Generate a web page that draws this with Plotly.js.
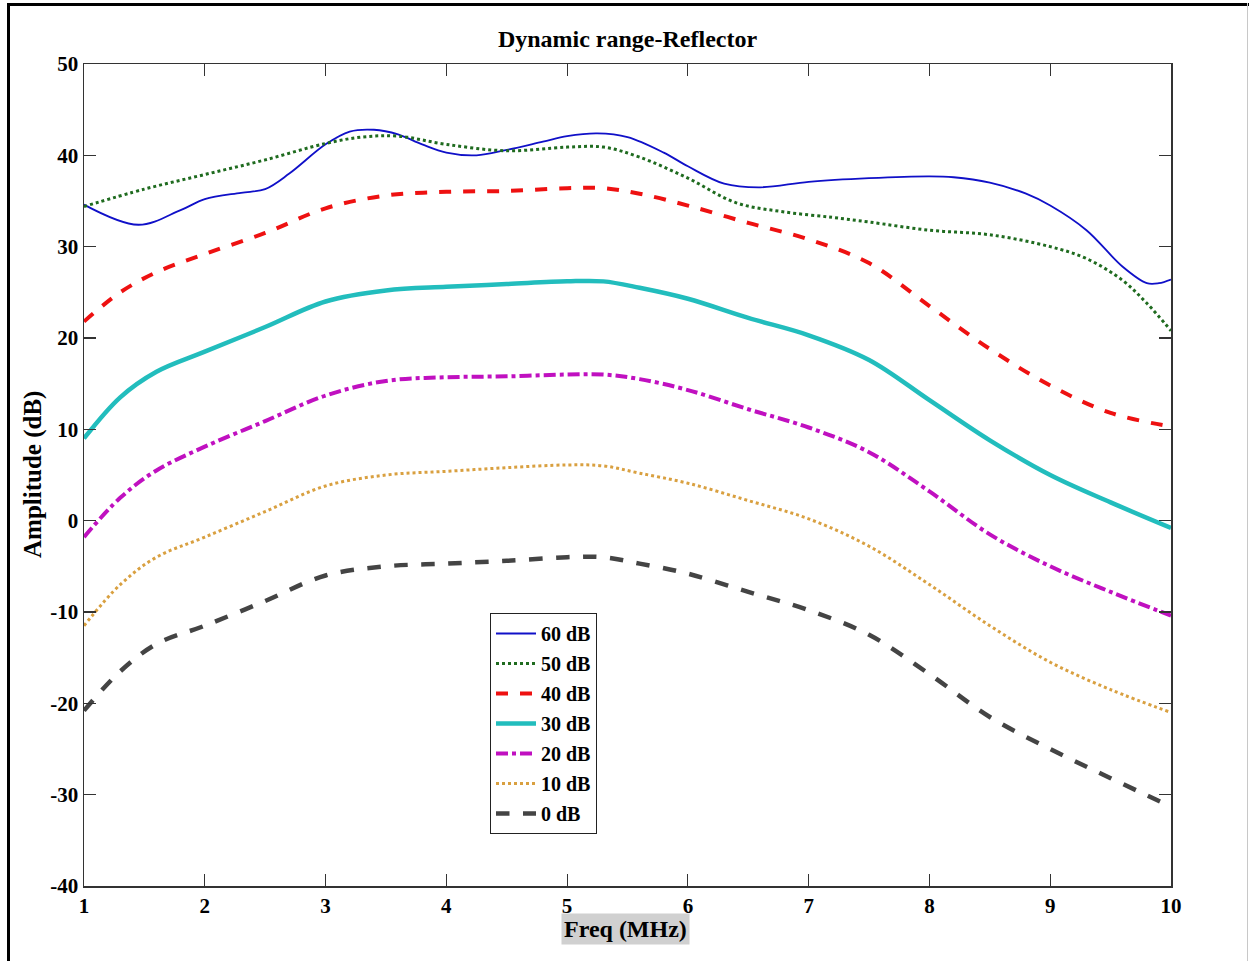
<!DOCTYPE html>
<html>
<head>
<meta charset="utf-8">
<script src="https://cdn.plot.ly/plotly-3.0.1.min.js"></script>
<style>
  html, body { margin:0; padding:0; background:#fff; }
  #wrap { position:relative; width:1249px; height:961px; }
  #chart { position:absolute; left:0; top:0; width:1249px; height:961px; }
  #fl { position:absolute; left:7px; top:3px; width:3px; height:958px; background:#000; }
  #ft { position:absolute; left:7px; top:3px; width:1242px; height:3px; background:#000; }
  #fr { position:absolute; left:1247px; top:3px; width:1px; height:958px; background:#c8c8c8; }
</style>
</head>
<body>
<div id="wrap">
  <div id="chart"></div>
  <div id="fl"></div><div id="ft"></div><div id="fr"></div>
</div>
<script>
const freq60 = [1, 1.45, 1.8, 2.0, 2.3, 2.5, 2.7, 3.0, 3.2, 3.4, 3.6, 3.8, 4.0, 4.25, 4.5, 4.8, 5.0, 5.25, 5.5, 5.8, 6.0, 6.3, 6.6, 7.0, 7.5, 8.0, 8.2, 8.5, 8.8, 9.0, 9.3, 9.6, 9.8, 9.9, 10];
const amp60  = [34.6, 32.4, 34.0, 35.2, 35.9, 36.3, 38.0, 41.2, 42.6, 42.8, 42.3, 41.2, 40.3, 40.0, 40.6, 41.5, 42.1, 42.4, 42.0, 40.3, 38.8, 36.9, 36.5, 37.1, 37.5, 37.7, 37.6, 37.0, 35.8, 34.5, 31.8, 27.8, 26.0, 26.0, 26.4];

const freq50 = [1, 1.5, 2.0, 2.5, 3.0, 3.3, 3.6, 4.0, 4.5, 5.0, 5.3, 5.6, 6.0, 6.4, 6.8, 7.2, 7.5, 8.0, 8.5, 9.0, 9.3, 9.6, 9.8, 10];
const amp50  = [34.4, 36.3, 37.9, 39.5, 41.3, 42.0, 42.1, 41.2, 40.5, 40.9, 40.9, 39.8, 37.5, 34.8, 33.8, 33.2, 32.7, 31.8, 31.3, 30.0, 28.7, 26.3, 23.8, 20.8];

const freqStd = [1, 1.3, 1.6, 2.0, 2.5, 3.0, 3.5, 4.0, 4.5, 5.0, 5.3, 5.6, 6.0, 6.5, 7.0, 7.5, 8.0, 8.5, 9.0, 9.5, 10];
const amp40 = [21.8, 25.0, 27.2, 29.2, 31.5, 34.2, 35.6, 36.0, 36.1, 36.4, 36.4, 35.8, 34.5, 32.6, 30.8, 28.2, 23.5, 18.8, 14.8, 11.8, 10.3];
const amp30 = [9.0, 13.5, 16.3, 18.5, 21.2, 24.0, 25.2, 25.6, 25.9, 26.2, 26.2, 25.5, 24.3, 22.2, 20.3, 17.6, 13.2, 8.8, 5.0, 2.0, -0.8];
const amp20 = [-1.8, 2.5, 5.5, 8.1, 10.9, 13.7, 15.3, 15.7, 15.8, 16.0, 16.0, 15.5, 14.3, 12.2, 10.2, 7.5, 3.2, -1.5, -5.0, -7.8, -10.4];
const amp10 = [-11.5, -7.0, -4.0, -1.8, 1.0, 3.8, 5.0, 5.4, 5.8, 6.1, 6.0, 5.2, 4.1, 2.2, 0.2, -2.8, -7.0, -11.5, -15.5, -18.5, -21.0];
const amp0  = [-20.8, -16.5, -13.5, -11.5, -8.8, -6.0, -5.0, -4.7, -4.4, -4.0, -4.0, -4.7, -5.8, -7.8, -9.8, -12.5, -16.8, -21.5, -25.0, -28.2, -31.3];

const seriesNames = ['60 dB', '50 dB', '40 dB', '30 dB', '20 dB', '10 dB', '0 dB'];
const xTicks = [1, 2, 3, 4, 5, 6, 7, 8, 9, 10];
const yTicks = [-40, -30, -20, -10, 0, 10, 20, 30, 40, 50];

const serif = 'Liberation Serif, Times New Roman, serif';

function tr(x, y, name, color, width, dash) {
  return {
    x: x, y: y, name: name, type: 'scatter', mode: 'lines',
    line: {color: color, width: width, dash: dash, shape: 'spline', smoothing: 1},
    legendgroup: name
  };
}

const data = [
  tr(freq60, amp60, seriesNames[0], '#1010c8', 1.8, 'solid'),
  tr(freq50, amp50, seriesNames[1], '#1f6b1f', 3, 'dot'),
  tr(freqStd, amp40, seriesNames[2], '#ee1111', 4, 'dash'),
  tr(freqStd, amp30, seriesNames[3], '#22bdbd', 4.5, 'solid'),
  tr(freqStd, amp20, seriesNames[4], '#c010c0', 4, 'dashdot'),
  tr(freqStd, amp10, seriesNames[5], '#d9a040', 3, 'dot'),
  tr(freqStd, amp0, seriesNames[6], '#444444', 4.5, 'dash')
];

const axisCommon = {
  showline: true, linecolor: '#333', linewidth: 1.5, mirror: 'ticks',
  ticks: 'inside', ticklen: 12, tickwidth: 1.2, tickcolor: '#333',
  showgrid: false, zeroline: false,
  tickfont: {family: serif, size: 21, color: '#000', weight: 'bold'}
};

const layout = {
  width: 1249, height: 961,
  margin: {l: 84, r: 78, t: 64, b: 75},
  paper_bgcolor: '#fff', plot_bgcolor: '#fff',
  showlegend: true,
  title: {text: 'Dynamic range-Reflector', x: 0.5, xref: 'paper', y: 1 - 39/961, yanchor: 'middle',
          font: {family: serif, size: 24, color: '#000', weight: 'bold'}},
  xaxis: Object.assign({}, axisCommon, {range: [1, 10], tickvals: xTicks, ticktext: xTicks.map(String), ticklabelstandoff: 0}),
  yaxis: Object.assign({}, axisCommon, {range: [-40, 50], tickvals: yTicks, ticktext: yTicks.map(String)}),
  legend: {
    x: (490 - 84) / 1087, y: (886 - 613) / 822, xanchor: 'left', yanchor: 'top',
    bgcolor: '#fff', bordercolor: '#222', borderwidth: 1,
    font: {family: serif, size: 20, color: '#000', weight: 'bold'},
    tracegroupgap: 1, itemwidth: 40
  },
  annotations: [
    {text: 'Freq (MHz)', xref: 'paper', yref: 'paper', x: (625 - 84) / 1087, y: (886 - 929) / 822,
     xanchor: 'center', yanchor: 'middle', showarrow: false, bgcolor: '#d0d0d0', borderpad: 2,
     font: {family: serif, size: 24, color: '#000', weight: 'bold'}},
    {text: 'Amplitude (dB)', xref: 'paper', yref: 'paper', x: (33 - 84) / 1087, y: (886 - 475) / 822,
     xanchor: 'center', yanchor: 'middle', showarrow: false, textangle: -90,
     font: {family: serif, size: 25, color: '#000', weight: 'bold'}}
  ]
};

Plotly.newPlot('chart', data, layout, {displayModeBar: false, staticPlot: true});
</script>
</body>
</html>
